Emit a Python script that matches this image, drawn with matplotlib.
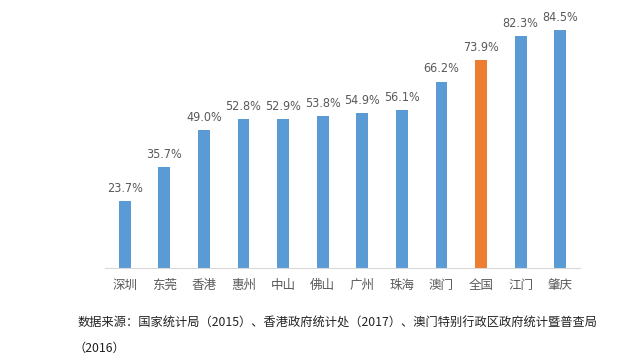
import matplotlib
matplotlib.use("Agg")
import matplotlib.pyplot as plt
from matplotlib import font_manager

plt.rcParams['font.family'] = ['Noto Sans CJK SC', 'DejaVu Sans']

cities = ["深圳", "东莞", "香港", "惠州", "中山", "佛山", "广州", "珠海", "澳门", "全国", "江门", "肇庆"]
rates = [23.7, 35.7, 49.0, 52.8, 52.9, 53.8, 54.9, 56.1, 66.2, 73.9, 82.3, 84.5]
highlight = "全国"

note_line1 = "数据来源：国家统计局（2015）、香港政府统计处（2017）、澳门特别行政区政府统计暨普查局"
note_line2 = "（2016）"

blue = "#5B9BD5"
orange = "#ED7D31"
colors = [orange if c == highlight else blue for c in cities]

# condensed font for the value labels if available
fonts = [(f.name, f.stretch) for f in font_manager.fontManager.ttflist]
if any(n == "Liberation Sans Narrow" for n, s in fonts):
    num_font, num_stretch = "Liberation Sans Narrow", "normal"
elif any(n == "DejaVu Sans" and s == "condensed" for n, s in fonts):
    num_font, num_stretch = "DejaVu Sans", "condensed"
else:
    num_font, num_stretch = "Liberation Sans", "normal"

fig = plt.figure(figsize=(6.4, 3.62), dpi=100)
ax = fig.add_axes([105 / 640, 94 / 362, 475 / 640, 253.5 / 362])

x = range(len(cities))
bars = ax.bar(x, rates, width=0.3, color=colors)
for b, v in zip(bars, rates):
    ax.annotate(f"{v:.1f}%", (b.get_x() + b.get_width() / 2, v),
                xytext=(0, 4.5), textcoords="offset points",
                ha="center", va="bottom", fontsize=9,
                color="#595959", family=num_font, stretch=num_stretch)

ax.set_xlim(-0.5, len(cities) - 0.5)
ax.set_ylim(0, 90)
ax.set_xticks(list(x))
ax.set_xticklabels(cities, fontsize=9, color="#595959")
ax.tick_params(axis="x", length=0, pad=8)
ax.set_yticks([])
for s in ["top", "right", "left"]:
    ax.spines[s].set_visible(False)
ax.spines["bottom"].set_color("#D9D9D9")

fig.text(78 / 640, 1 - 323 / 362, note_line1, fontsize=8.8, color="#222222",
         ha="left", va="center")
fig.text(74 / 640, 1 - 348 / 362, note_line2, fontsize=8.8, color="#222222",
         ha="left", va="center")

fig.savefig("out.png", dpi=100)
